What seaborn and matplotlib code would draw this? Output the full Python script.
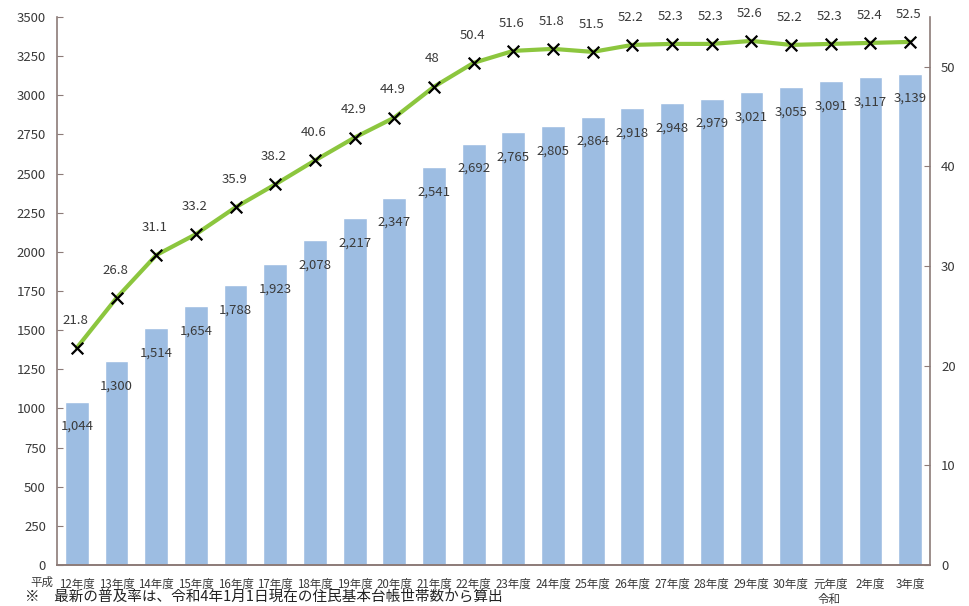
import numpy as np
import seaborn as sns
import matplotlib.pyplot as plt
from matplotlib.ticker import FixedLocator

sns.set_style("white")
plt.rcParams['font.family'] = ['Noto Sans CJK JP', 'DejaVu Sans']

# 年度ラベル
years = ['12年度', '13年度', '14年度', '15年度', '16年度', '17年度', '18年度',
         '19年度', '20年度', '21年度', '22年度', '23年度', '24年度', '25年度',
         '26年度', '27年度', '28年度', '29年度', '30年度', '元年度', '2年度', '3年度']
# 世帯数（棒）
households = [1044, 1300, 1514, 1654, 1788, 1923, 2078, 2217, 2347, 2541, 2692,
              2765, 2805, 2864, 2918, 2948, 2979, 3021, 3055, 3091, 3117, 3139]
# 普及率（折れ線）
rates = [21.8, 26.8, 31.1, 33.2, 35.9, 38.2, 40.6, 42.9, 44.9, 48, 50.4,
         51.6, 51.8, 51.5, 52.2, 52.3, 52.3, 52.6, 52.2, 52.3, 52.4, 52.5]

bar_color = '#9DBDE2'
line_color = '#8CC63E'
spine_color = '#8C7B78'
text_color = '#3A3A3A'

fig = plt.figure(figsize=(9.7, 6.06), dpi=100)
ax = fig.add_axes([57/970, 41/606, 873/970, 548/606])

sns.barplot(x=years, y=households, color=bar_color, width=0.6, ax=ax,
            saturation=1)
ax.set_xlim(-0.5, len(years) - 0.5)
ax.set_ylim(0, 3500)
ax.set_yticks(np.arange(0, 3501, 250))

for i, v in enumerate(households):
    ax.annotate(f'{v:,}', (i, v), xytext=(0, -18), textcoords='offset points',
                ha='center', va='center', fontsize=9.5, color=text_color)

ax2 = ax.twinx()
ax2.set_position(ax.get_position())
sns.lineplot(x=np.arange(len(rates)), y=rates, color=line_color, linewidth=3,
             ax=ax2, zorder=3)
ax2.scatter(np.arange(len(rates)), rates, marker='x', s=70, color='black',
            linewidths=1.6, zorder=4)
ax2.set_ylim(0, 55)
ax2.set_yticks(np.arange(0, 51, 10))
for i, v in enumerate(rates):
    ax2.annotate(f'{v:g}', (i, v), xytext=(-1, 20), textcoords='offset points',
                 ha='center', va='center', fontsize=9.5, color=text_color)

for a in (ax, ax2):
    a.spines['top'].set_visible(False)
    for side in ('left', 'right', 'bottom'):
        a.spines[side].set_color(spine_color)
        a.spines[side].set_linewidth(1.2)
ax.spines['right'].set_visible(False)
ax2.spines['left'].set_visible(False)

ax.tick_params(axis='y', direction='in', length=4, color=spine_color,
               labelsize=9.5, labelcolor=text_color, pad=8)
ax2.tick_params(axis='y', direction='in', length=4, color=spine_color,
                labelsize=9.5, labelcolor=text_color, pad=8)
ax.tick_params(axis='x', which='major', length=0, labelsize=8.3,
               labelcolor=text_color, pad=9)
ax.xaxis.set_minor_locator(FixedLocator(np.arange(0.5, len(years) - 1, 1)))
ax.tick_params(axis='x', which='minor', direction='in', length=4,
               color=spine_color)
ax.set_xlabel('')
ax.set_ylabel('')
ax2.set_ylabel('')

fig.text(42/970, 1 - 582/606, '平成', ha='center', va='center', fontsize=8.3,
         color=text_color)
fig.text(829/970, 1 - 599/606, '令和', ha='center', va='center', fontsize=8.3,
         color=text_color)
fig.text(25/970, 1 - 605/606, '※　最新の普及率は、令和4年1月1日現在の住民基本台帳世帯数から算出',
         ha='left', va='bottom', fontsize=10.5, color='#222222')

fig.savefig('out.png', dpi=100)
